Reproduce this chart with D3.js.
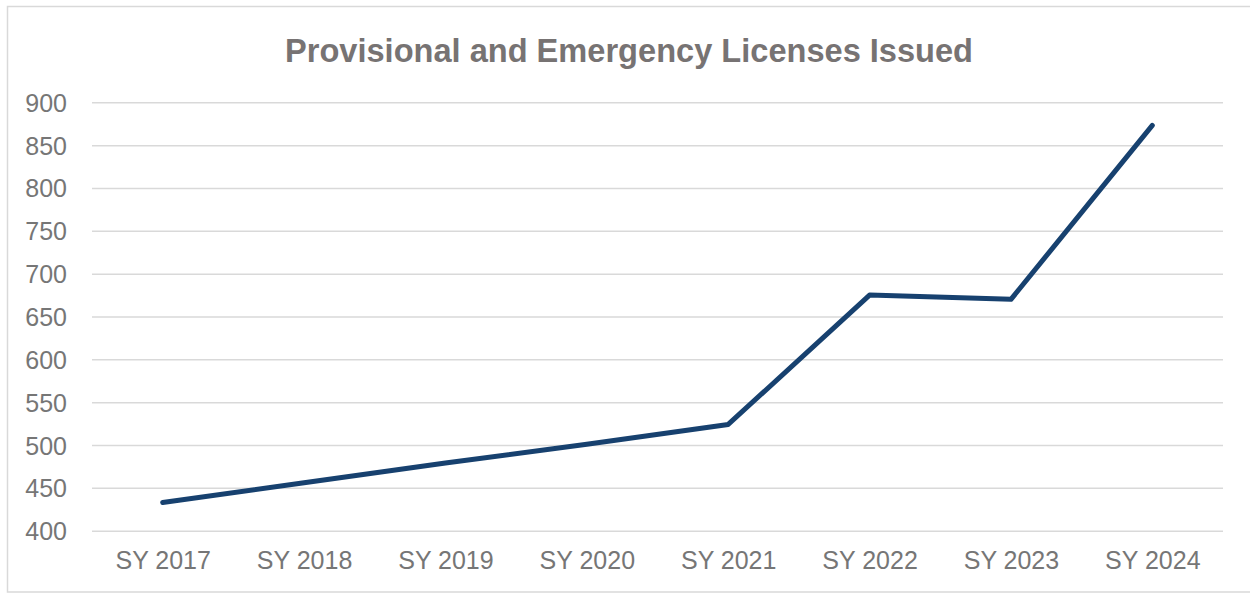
<!DOCTYPE html>
<html><head><meta charset="utf-8">
<script src="https://cdn.jsdelivr.net/npm/d3@7"></script>
<style>html,body{margin:0;padding:0;background:#fff;}svg{display:block;}</style>
</head><body>
<svg id="c" width="1250" height="593"></svg>
<script>
const categories = ["SY 2017","SY 2018","SY 2019","SY 2020","SY 2021","SY 2022","SY 2023","SY 2024"];
const values = [433, 456, 479, 501, 524, 675, 670, 873];
const yTicks = [400,450,500,550,600,650,700,750,800,850,900];
const title = "Provisional and Emergency Licenses Issued";

const svg = d3.select("#c");
const W = 1250, H = 593;
const m = {left: 92, right: 27, top: 102.3, bottom: 62.3};
const x = d3.scalePoint().domain(categories).range([m.left, W - m.right]).padding(0.5);
const y = d3.scaleLinear().domain([400, 900]).range([H - m.bottom, m.top]);

svg.append("rect").attr("x", 7.5).attr("y", 6.5).attr("width", 1260).attr("height", 585.5)
  .attr("fill", "#fff").attr("stroke", "#d9d9d9").attr("stroke-width", 1.5);

svg.append("text").attr("x", 629).attr("y", 61.5).attr("text-anchor", "middle")
  .attr("font-family", "Liberation Sans, Arial, sans-serif").attr("font-weight", "bold")
  .attr("font-size", 33).attr("fill", "#777373")
  .attr("textLength", 688).attr("lengthAdjust", "spacingAndGlyphs").text(title);

const yAxis = d3.axisLeft(y).tickValues(yTicks).tickSize(-(W - m.left - m.right)).tickPadding(25);
const gy = svg.append("g").attr("transform", `translate(${m.left},0)`).call(yAxis);
gy.select(".domain").remove();
gy.selectAll(".tick line").attr("stroke", "#d9d9d9").attr("stroke-width", 1.5);
gy.selectAll(".tick text").attr("font-family", "Liberation Sans, Arial, sans-serif")
  .attr("font-size", 25).attr("fill", "#767676").attr("dy", "0.36em");

const xAxis = d3.axisBottom(x).tickSize(0).tickPadding(21);
const gx = svg.append("g").attr("transform", `translate(0,${H - m.bottom})`).call(xAxis);
gx.select(".domain").remove();
gx.selectAll(".tick text").attr("font-family", "Liberation Sans, Arial, sans-serif")
  .attr("font-size", 25).attr("fill", "#767676");

const line = d3.line().x((d, i) => x(categories[i])).y(d => y(d));
svg.append("path").datum(values).attr("d", line).attr("fill", "none")
  .attr("stroke", "#17416f").attr("stroke-width", 5).attr("stroke-linecap", "round").attr("stroke-linejoin", "round");
</script>
</body></html>
